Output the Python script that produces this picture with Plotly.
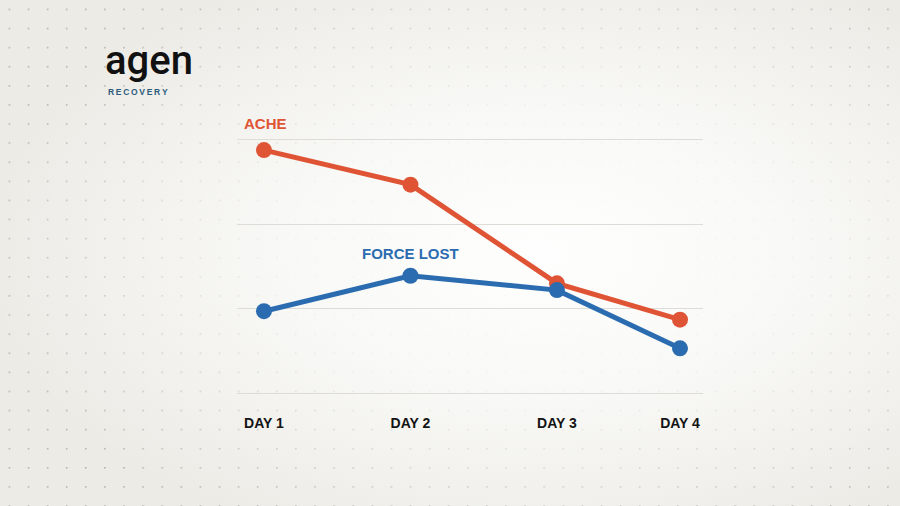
"""Ache vs force lost over four recovery days, agen-branded slide."""
import base64

import plotly.graph_objects as go

# --- data ---------------------------------------------------------------------
days = ["DAY 1", "DAY 2", "DAY 3", "DAY 4"]
day_x = [1, 2, 3, 3.84]
ache = [2.88, 2.47, 1.30, 0.87]
force_lost = [0.97, 1.39, 1.22, 0.53]
grid_levels = [0, 1, 2, 3]

# --- theme --------------------------------------------------------------------
_INK = "#141414"
_ORANGE = "#e05436"
_BLUE = "#2b6cb0"
_BRAND = "#2d5b7d"
_GRID = "#dddcd7"
_FONT = "Liberation Sans, Arial, Helvetica, sans-serif"

W, H = 900, 506

# paper background: warm grey, dot grid, soft white glow in the middle
_BG_SVG = f"""<svg xmlns='http://www.w3.org/2000/svg' width='{W}' height='{H}' viewBox='0 0 {W} {H}' preserveAspectRatio='none'>
<defs>
<pattern id='dots' x='0' y='0' width='19.1' height='19.1' patternUnits='userSpaceOnUse'>
<circle cx='9.4' cy='9.4' r='0.85' fill='#a9a8a2'/>
</pattern>
<radialGradient id='glow' cx='0.6' cy='0.5' r='0.62'>
<stop offset='0' stop-color='#ffffff' stop-opacity='0.97'/>
<stop offset='0.45' stop-color='#fbfbf9' stop-opacity='0.85'/>
<stop offset='1' stop-color='#fbfbf9' stop-opacity='0'/>
</radialGradient>
</defs>
<rect width='{W}' height='{H}' fill='#ecebe6'/>
<rect width='{W}' height='{H}' fill='url(#dots)'/>
<rect width='{W}' height='{H}' fill='url(#glow)'/>
</svg>"""
_BG_URI = "data:image/svg+xml;base64," + base64.b64encode(_BG_SVG.encode()).decode()


def _px_x(px):
    return px / W


def _px_y(px):
    return 1 - px / H


fig = go.Figure()
fig.add_trace(go.Scatter(
    x=day_x, y=ache, name="ACHE", mode="lines+markers",
    line=dict(color=_ORANGE, width=5), marker=dict(color=_ORANGE, size=16),
    cliponaxis=False,
))
fig.add_trace(go.Scatter(
    x=day_x, y=force_lost, name="FORCE LOST", mode="lines+markers",
    line=dict(color=_BLUE, width=5), marker=dict(color=_BLUE, size=16),
    cliponaxis=False,
))

fig.update_layout(
    width=W, height=H,
    margin=dict(l=0, r=0, t=0, b=0),
    paper_bgcolor="#ecebe6",
    plot_bgcolor="rgba(0,0,0,0)",
    showlegend=False,
    font=dict(family=_FONT, color=_INK),
    images=[dict(
        source=_BG_URI, xref="paper", yref="paper", x=0, y=1,
        sizex=1, sizey=1, sizing="stretch", layer="below",
    )],
    xaxis=dict(
        domain=[_px_x(237), _px_x(703)], range=[0.816, 3.997],
        showgrid=False, zeroline=False, showline=False, ticks="",
        tickvals=day_x, ticktext=days,
        tickfont=dict(family=_FONT, size=14, color=_INK, weight="bold"),
        ticklabelstandoff=3,
    ),
    yaxis=dict(
        domain=[_px_y(409.9), _px_y(123.1)], range=[-0.2, 3.2],
        tickvals=grid_levels, showticklabels=False, ticks="",
        showgrid=True, gridcolor=_GRID, gridwidth=1.2,
        zeroline=False, showline=False,
    ),
)

# series labels
fig.add_annotation(
    text="<b>ACHE</b>", x=0.853, y=3.2, xref="x", yref="y",
    xanchor="left", yanchor="middle", showarrow=False,
    font=dict(family=_FONT, size=15, color=_ORANGE),
)
fig.add_annotation(
    text="<b>FORCE LOST</b>", x=2, y=1.65, xref="x", yref="y",
    xanchor="center", yanchor="middle", showarrow=False,
    font=dict(family=_FONT, size=15, color=_BLUE),
)

# brand mark
fig.add_annotation(
    text="agen", x=_px_x(104), y=_px_y(85), xref="paper", yref="paper",
    xanchor="left", yanchor="bottom", showarrow=False, borderpad=0,
    font=dict(family="Roboto, Lato, sans-serif", size=40, color="#111111", weight=500),
)
fig.add_annotation(
    text="<b>R\u2009E\u2009C\u2009O\u2009V\u2009E\u2009R\u2009Y</b>",
    x=_px_x(107), y=_px_y(86), xref="paper", yref="paper",
    xanchor="left", yanchor="top", showarrow=False, borderpad=0,
    font=dict(family=_FONT, size=8.5, color=_BRAND),
)

# drop the browser's default body margin so the 900x506 figure fills the window
fig.write_html(
    "out.html",
    config={"displayModeBar": False},
    post_script="document.body.style.margin='0';",
)
